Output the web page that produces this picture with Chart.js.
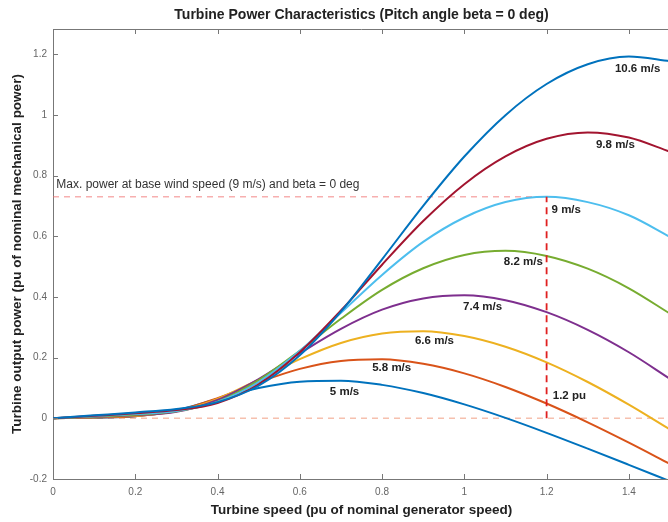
<!DOCTYPE html>
<html>
<head>
<meta charset="utf-8">
<script src="https://cdn.jsdelivr.net/npm/chart.js@4.4.1/dist/chart.umd.min.js"></script>
<style>
  html, body { margin: 0; padding: 0; background: #fff; overflow: hidden; }
  #wrap { width: 668px; height: 522px; overflow: hidden; }
</style>
</head>
<body>
<div id="wrap"><canvas id="myChart" width="672" height="522"></canvas></div>
<script>
// turbine speed (pu) sample points
const speed = [0, 0.1, 0.2, 0.3, 0.4, 0.5, 0.6, 0.7, 0.8, 0.9, 1.0, 1.1, 1.2, 1.3, 1.4, 1.5];

// output power (pu) for each wind speed
const power5   = [0, 0.0022, 0.0064, 0.0269, 0.0640, 0.0997, 0.1208, 0.1242, 0.1102, 0.0832, 0.0458, 0.0014, -0.0478, -0.0999, -0.1533, -0.2073];
const power58  = [0, 0.0029, 0.0070, 0.0246, 0.0663, 0.1185, 0.1630, 0.1892, 0.1945, 0.1795, 0.1482, 0.1034, 0.0487, -0.0132, -0.0801, -0.1503];
const power66  = [0, 0.0038, 0.0082, 0.0230, 0.0642, 0.1278, 0.1950, 0.2484, 0.2795, 0.2873, 0.2711, 0.2359, 0.1844, 0.1197, 0.0450, -0.0370];
const power74  = [0, 0.0047, 0.0099, 0.0214, 0.0604, 0.1291, 0.2144, 0.2949, 0.3580, 0.3949, 0.4055, 0.3893, 0.3498, 0.2915, 0.2177, 0.1301];
const power82  = [0, 0.0058, 0.0117, 0.0230, 0.0550, 0.1258, 0.2228, 0.3279, 0.4233, 0.4945, 0.5382, 0.5520, 0.5351, 0.4931, 0.4285, 0.3450];
const power9   = [0, 0.0070, 0.0141, 0.0239, 0.0540, 0.1194, 0.2222, 0.3475, 0.4725, 0.5813, 0.6618, 0.7126, 0.7300, 0.7125, 0.6692, 0.5981];
const power98  = [0, 0.0082, 0.0167, 0.0271, 0.0505, 0.1123, 0.2177, 0.3552, 0.5062, 0.6501, 0.7716, 0.8631, 0.9211, 0.9423, 0.9252, 0.8785];
const power106 = [0, 0.0097, 0.0194, 0.0308, 0.0534, 0.1073, 0.2075, 0.3516, 0.5240, 0.7002, 0.8627, 0.9991, 1.1017, 1.1668, 1.1921, 1.1767];

const windSpeeds = ['5 m/s', '5.8 m/s', '6.6 m/s', '7.4 m/s', '8.2 m/s', '9 m/s', '9.8 m/s', '10.6 m/s'];
const powerSeries = [power5, power58, power66, power74, power82, power9, power98, power106];
const lineColors = ['#0072BD', '#D95319', '#EDB120', '#7E2F8E', '#77AC30', '#4DBEEE', '#A2142F', '#0072BD'];

// max power point at base wind speed
const basePower = 0.73;
const baseSpeed = 1.2;

const xTicks = [0, 0.2, 0.4, 0.6, 0.8, 1, 1.2, 1.4];
const yTicks = [-0.2, 0, 0.2, 0.4, 0.6, 0.8, 1, 1.2];

// text notes on the plot (data coordinates of the text's left/middle)
const noteTexts = ['10.6 m/s', '9.8 m/s', '9 m/s', '8.2 m/s', '7.4 m/s', '6.6 m/s', '5.8 m/s', '5 m/s', '1.2 pu',
  'Max. power at base wind speed (9 m/s) and beta = 0 deg'];
const noteX = [1.366, 1.320, 1.212, 1.096, 0.997, 0.880, 0.776, 0.673, 1.215, 0.008];
const noteY = [1.151, 0.902, 0.688, 0.515, 0.367, 0.257, 0.168, 0.087, 0.073, 0.770];

const FONT = '"Liberation Sans", Arial, sans-serif';

const datasets = powerSeries.map(function(vals, i) {
  return {
    label: windSpeeds[i],
    data: speed.map(function(s, j) { return { x: s, y: vals[j] }; }),
    borderColor: lineColors[i],
    borderWidth: 2,
    pointRadius: 0,
    cubicInterpolationMode: 'monotone',
    order: powerSeries.length - i
  };
});

datasets.push({
  label: 'zero',
  data: [{ x: 0, y: 0 }, { x: 1.5, y: 0 }],
  borderColor: 'rgba(240, 150, 120, 0.6)',
  borderWidth: 1.5,
  borderDash: [6, 5],
  pointRadius: 0,
  order: 20
});
datasets.push({
  label: 'base power',
  data: [{ x: 0, y: basePower }, { x: baseSpeed, y: basePower }],
  borderColor: 'rgba(240, 110, 110, 0.55)',
  borderWidth: 1.5,
  borderDash: [6, 5],
  pointRadius: 0,
  order: 21
});
datasets.push({
  label: 'base speed',
  data: [{ x: baseSpeed, y: 0 }, { x: baseSpeed, y: basePower }],
  borderColor: '#E02020',
  borderWidth: 1.8,
  borderDash: [7, 5],
  pointRadius: 0,
  order: -1
});

const boxPlugin = {
  id: 'boxPlugin',
  afterDraw: function(chart) {
    const ctx = chart.ctx;
    const area = chart.chartArea;
    const xs = chart.scales.x;
    const ys = chart.scales.y;
    ctx.save();
    ctx.strokeStyle = '#777';
    ctx.lineWidth = 1;
    ctx.beginPath();
    ctx.moveTo(area.left, area.top + 0.5);
    ctx.lineTo(area.right, area.top + 0.5);
    xTicks.forEach(function(v) {
      const px = Math.round(xs.getPixelForValue(v)) + 0.5;
      ctx.moveTo(px, area.bottom);
      ctx.lineTo(px, area.bottom - 5);
      ctx.moveTo(px, area.top);
      ctx.lineTo(px, area.top + 5);
    });
    yTicks.forEach(function(v) {
      const py = Math.round(ys.getPixelForValue(v)) + 0.5;
      ctx.moveTo(area.left, py);
      ctx.lineTo(area.left + 5, py);
    });
    ctx.stroke();

    ctx.textBaseline = 'middle';
    ctx.textAlign = 'left';
    noteTexts.forEach(function(t, i) {
      const isLong = i === noteTexts.length - 1;
      ctx.fillStyle = isLong ? '#333' : '#222';
      ctx.font = isLong ? '12px ' + FONT : 'bold 11.5px ' + FONT;
      ctx.fillText(t, xs.getPixelForValue(noteX[i]), ys.getPixelForValue(noteY[i]));
    });
    ctx.restore();
  }
};

const chartCtx = document.getElementById('myChart').getContext('2d');
const myChart = new Chart(chartCtx, {
  type: 'line',
  data: { datasets: datasets },
  plugins: [boxPlugin],
  options: {
    responsive: false,
    animation: false,
    layout: { padding: { left: 0, right: 2, top: 0, bottom: 0 } },
    plugins: {
      legend: { display: false },
      tooltip: { enabled: false },
      title: {
        display: true,
        fullSize: false,
        text: 'Turbine Power Characteristics (Pitch angle beta = 0 deg)',
        color: '#222',
        font: { family: FONT, size: 14, weight: 'bold', lineHeight: 1.2 },
        padding: { top: 7, bottom: 5.2 }
      }
    },
    scales: {
      x: {
        type: 'linear',
        min: 0,
        max: 1.5,
        grid: { display: false, drawTicks: false },
        border: { display: true, color: '#777', width: 1 },
        afterBuildTicks: function(scale) { scale.ticks = xTicks.map(function(v) { return { value: v }; }); },
        afterFit: function(scale) { scale.height = 43; },
        ticks: {
          padding: 7,
          color: '#666',
          font: { family: FONT, size: 10 },
          callback: function(v) { return String(Math.round(v * 10) / 10); }
        },
        title: {
          display: true,
          text: 'Turbine speed (pu of nominal generator speed)',
          color: '#222',
          font: { family: FONT, size: 13.5, weight: 'bold', lineHeight: 1.2 },
          padding: { top: 0, bottom: 3.9 }
        }
      },
      y: {
        type: 'linear',
        min: -0.2,
        max: 1.283,
        grid: { display: false, drawTicks: false },
        border: { display: true, color: '#777', width: 1 },
        afterBuildTicks: function(scale) { scale.ticks = yTicks.map(function(v) { return { value: v }; }); },
        afterFit: function(scale) { scale.width = 53; },
        ticks: {
          padding: 6,
          color: '#666',
          font: { family: FONT, size: 10 },
          callback: function(v) { return String(Math.round(v * 10) / 10); }
        },
        title: {
          display: true,
          text: 'Turbine output power (pu of nominal mechanical power)',
          color: '#222',
          font: { family: FONT, size: 13.5, weight: 'bold', lineHeight: 1.2 },
          padding: { top: 9, bottom: 0 }
        }
      }
    }
  }
});
</script>
</body>
</html>
